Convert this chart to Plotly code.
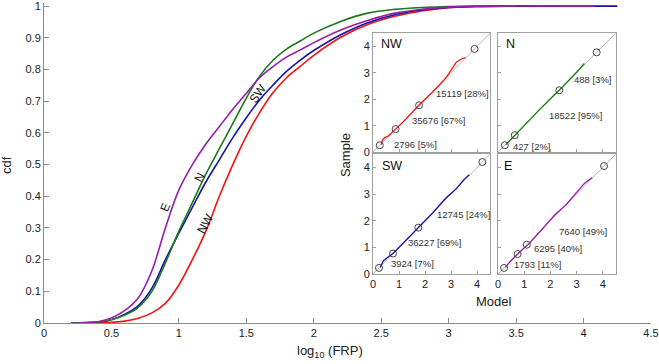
import plotly.graph_objects as go

# ---------------- main CDF data ----------------
e_x = [0.2, 0.4, 0.5, 0.6, 0.7, 0.8, 0.9, 1.0, 1.1, 1.2, 1.3, 1.4, 1.5, 1.6, 1.7, 1.8, 1.9, 2.0, 2.2, 2.4, 2.6, 2.8, 3.0, 3.2, 4.08]
e_y = [0.0, 0.004, 0.016, 0.04, 0.08, 0.165, 0.30, 0.42, 0.50, 0.565, 0.62, 0.675, 0.725, 0.775, 0.81, 0.84, 0.862, 0.885, 0.925, 0.955, 0.978, 0.99, 0.997, 1.0, 1.0]

n_x = [0.2, 0.4, 0.5, 0.6, 0.7, 0.8, 0.9, 1.0, 1.1, 1.2, 1.3, 1.4, 1.5, 1.6, 1.7, 1.8, 1.9, 2.0, 2.2, 2.4, 2.6, 2.8, 3.0, 3.5]
n_y = [0.0, 0.003, 0.01, 0.025, 0.05, 0.10, 0.19, 0.29, 0.38, 0.47, 0.55, 0.63, 0.71, 0.78, 0.83, 0.865, 0.89, 0.915, 0.952, 0.978, 0.99, 0.996, 0.999, 1.0]

sw_x = [0.2, 0.4, 0.5, 0.6, 0.7, 0.8, 0.9, 1.0, 1.1, 1.2, 1.3, 1.4, 1.5, 1.6, 1.7, 1.8, 1.9, 2.0, 2.2, 2.4, 2.6, 2.8, 3.0, 3.2, 3.5, 4.25]
sw_y = [0.0, 0.003, 0.01, 0.028, 0.055, 0.11, 0.20, 0.284, 0.365, 0.445, 0.515, 0.585, 0.648, 0.705, 0.752, 0.795, 0.83, 0.86, 0.91, 0.948, 0.973, 0.988, 0.996, 0.999, 1.0, 1.0]

nw_x = [0.2, 0.5, 0.6, 0.7, 0.8, 0.9, 1.0, 1.1, 1.2, 1.3, 1.4, 1.5, 1.6, 1.7, 1.8, 1.9, 2.0, 2.2, 2.4, 2.6, 2.8, 3.0, 3.2, 3.6]
nw_y = [0.0, 0.002, 0.006, 0.015, 0.032, 0.062, 0.12, 0.20, 0.29, 0.40, 0.50, 0.59, 0.665, 0.728, 0.775, 0.81, 0.845, 0.902, 0.942, 0.968, 0.985, 0.995, 0.999, 1.0]

curve_labels = ["E", "N", "NW", "SW"]
label_x = [0.90, 1.155, 1.20, 1.59]
label_y = [0.366, 0.461, 0.315, 0.725]
label_angle = [-68, -63, -62, -55]

x_ticks = [0, 0.5, 1, 1.5, 2, 2.5, 3, 3.5, 4, 4.5]
y_ticks = [0, 0.1, 0.2, 0.3, 0.4, 0.5, 0.6, 0.7, 0.8, 0.9, 1]

# ---------------- inset Q-Q data ----------------
regions = ["NW", "N", "SW", "E"]
qq_model = {
    "NW": [0.32, 0.36, 0.45, 0.6, 0.85, 1.2, 1.75, 2.3, 2.8, 3.0, 3.2, 3.4, 3.55],
    "N":  [0.3, 0.6, 1.0, 1.5, 2.0, 2.5, 3.0, 3.2, 3.3],
    "SW": [0.28, 0.4, 0.8, 1.2, 1.7, 2.3, 2.8, 3.2, 3.5, 3.7],
    "E":  [0.28, 0.45, 0.8, 1.2, 1.7, 2.2, 2.6, 3.0, 3.3, 3.6],
}
qq_sample = {
    "NW": [0.28, 0.45, 0.55, 0.62, 0.85, 1.18, 1.76, 2.28, 2.8, 3.1, 3.4, 3.52, 3.57],
    "N":  [0.28, 0.6, 1.0, 1.52, 2.02, 2.5, 3.02, 3.25, 3.35],
    "SW": [0.25, 0.5, 0.8, 1.2, 1.7, 2.3, 2.85, 3.2, 3.55, 3.72],
    "E":  [0.25, 0.45, 0.8, 1.15, 1.7, 2.25, 2.6, 3.05, 3.4, 3.62],
}
qq_breaks = {
    "NW": [0.26, 0.87, 1.77, 3.9],
    "N":  [0.26, 0.64, 2.34, 3.77],
    "SW": [0.23, 0.77, 1.74, 4.2],
    "E":  [0.23, 0.75, 1.1, 4.05],
}
qq_texts = {
    "NW": ["15119 [28%]", "35676 [67%]", "2796 [5%]"],
    "N":  ["488 [3%]", "18522 [95%]", "427 [2%]"],
    "SW": ["12745 [24%]", "36227 [69%]", "3924 [7%]"],
    "E":  ["7640 [49%]", "6295 [40%]", "1793 [11%]"],
}
qq_text_x = {"NW": [3.42, 2.5, 1.62], "N": [3.62, 2.96, 1.31],
             "SW": [3.46, 2.38, 1.5], "E": [3.23, 2.31, 1.5]}
qq_text_y = {"NW": [2.23, 1.21, 0.30], "N": [2.73, 1.40, 0.23],
             "SW": [2.23, 1.17, 0.38], "E": [1.59, 0.95, 0.34]}
qq_title_x = {"NW": 0.73, "N": 0.46, "SW": 0.73, "E": 0.38}
qq_title_y = 4.07
inset_ticks = [0, 1, 2, 3, 4]
inset_range = [0, 4.5]

# ---------------- styles ----------------
colors = {"NW": "#f01414", "N": "#1a7a1a", "SW": "#1414a8", "E": "#961ea8"}
FONT = "Liberation Sans, Arial, sans-serif"
AXC = "#8a8a8a"
TXT = "#222222"

fig = go.Figure()

for name, xs, ys in [("NW", nw_x, nw_y), ("SW", sw_x, sw_y), ("N", n_x, n_y), ("E", e_x, e_y)]:
    fig.add_trace(go.Scatter(x=xs, y=ys, mode="lines",
                             line=dict(color=colors[name], width=1.6, shape="spline", smoothing=1.0),
                             showlegend=False, hoverinfo="skip", xaxis="x", yaxis="y"))

for t, lx, ly, ang in zip(curve_labels, label_x, label_y, label_angle):
    fig.add_annotation(x=lx, y=ly, xref="x", yref="y", text=t, showarrow=False,
                       xanchor="center", yanchor="middle",
                       textangle=ang, font=dict(family=FONT, size=12, color="#111"))

# inset layout
dom_x = {"NW": [0.542, 0.735], "N": [0.748, 0.942], "SW": [0.542, 0.735], "E": [0.748, 0.942]}
dom_y = {"NW": [0.534, 0.906], "N": [0.534, 0.906], "SW": [0.153, 0.528], "E": [0.153, 0.528]}
show_x_lab = {"NW": False, "N": False, "SW": True, "E": True}
show_y_lab = {"NW": True, "N": False, "SW": True, "E": False}

layout_axes = {}
for i, r in enumerate(regions):
    k = i + 2
    xa, ya = f"x{k}", f"y{k}"
    fig.add_trace(go.Scatter(x=inset_range, y=inset_range, mode="lines",
                             line=dict(color="#a0a0a0", width=0.8),
                             showlegend=False, hoverinfo="skip", xaxis=xa, yaxis=ya))
    fig.add_trace(go.Scatter(x=qq_model[r], y=qq_sample[r], mode="lines",
                             line=dict(color=colors[r], width=1.3),
                             showlegend=False, hoverinfo="skip", xaxis=xa, yaxis=ya))
    fig.add_trace(go.Scatter(x=qq_breaks[r], y=qq_breaks[r], mode="markers",
                             marker=dict(symbol="circle-open", size=7, color="#444",
                                         line=dict(width=1, color="#444")),
                             showlegend=False, hoverinfo="skip", xaxis=xa, yaxis=ya))
    for txt, tx, ty in zip(qq_texts[r], qq_text_x[r], qq_text_y[r]):
        fig.add_annotation(x=tx, y=ty, xref=xa, yref=ya, text=txt, showarrow=False,
                           xanchor="center", yanchor="middle",
                           font=dict(family=FONT, size=9.5, color="#333"))
    fig.add_annotation(x=qq_title_x[r], y=qq_title_y, xref=xa, yref=ya, text=r, showarrow=False,
                       xanchor="center", yanchor="middle",
                       font=dict(family=FONT, size=12.5, color="#111"))
    common = dict(range=inset_range, showline=True, linecolor="#a0a0a0", linewidth=1, mirror=True,
                  ticks="inside", ticklen=3, tickcolor="#a0a0a0", tickvals=inset_ticks,
                  showgrid=False, zeroline=False, automargin=False,
                  tickfont=dict(family=FONT, size=11, color=TXT))
    layout_axes[f"xaxis{k}"] = dict(domain=dom_x[r], anchor=ya, showticklabels=show_x_lab[r], **common)
    layout_axes[f"yaxis{k}"] = dict(domain=dom_y[r], anchor=xa, showticklabels=show_y_lab[r], **common)

paper_txt = [
    ("Sample", 0.496, 0.525, -90),
    ("Model", 0.741, 0.066, 0),
    ("cdf", -0.061, 0.494, -90),
    ("log<sub>10</sub> (FRP)", 0.471, -0.09, 0),
]
for t, px, py, ang in paper_txt:
    fig.add_annotation(x=px, y=py, xref="paper", yref="paper", text=t, showarrow=False,
                       xanchor="center", yanchor="middle", textangle=ang,
                       font=dict(family=FONT, size=13, color=TXT))

fig.update_layout(
    template="none",
    width=659, height=364,
    margin=dict(l=44, r=8, t=3, b=41, autoexpand=False),
    paper_bgcolor="white", plot_bgcolor="white",
    showlegend=False,
    xaxis=dict(domain=[0, 1], range=[0, 4.5], tickvals=x_ticks, showline=True, linecolor=AXC,
               ticks="inside", ticklen=5, tickcolor=AXC, showgrid=False, zeroline=False,
               automargin=False, tickfont=dict(family=FONT, size=11, color=TXT), anchor="y"),
    yaxis=dict(domain=[0, 1], range=[0, 1.01], tickvals=y_ticks, showline=True, linecolor=AXC,
               ticks="inside", ticklen=5, tickcolor=AXC, showgrid=False, zeroline=False,
               automargin=False, tickfont=dict(family=FONT, size=11, color=TXT), anchor="x"),
    **layout_axes,
)

fig.write_html("out.html", config={"displayModeBar": False},
               post_script="document.body.style.margin='0px';document.body.style.overflow='hidden';")
